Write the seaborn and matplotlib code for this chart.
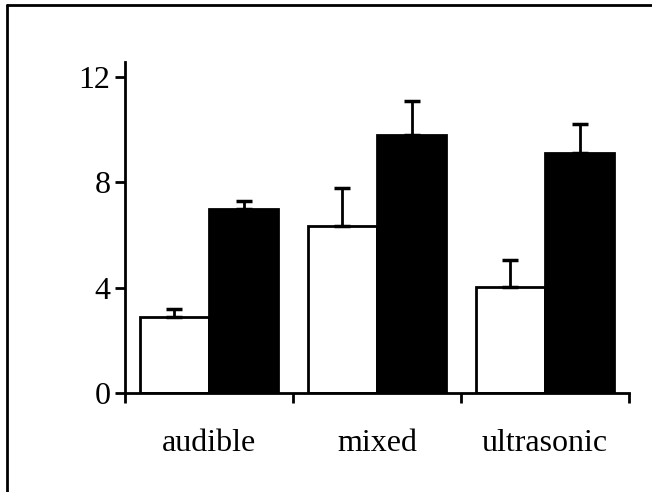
import matplotlib
matplotlib.use("Agg")
import matplotlib.pyplot as plt
from matplotlib.lines import Line2D
import seaborn as sns
import pandas as pd
import numpy as np

# data
categories = ["audible", "mixed", "ultrasonic"]
groups = ["open", "filled"]
open_means = [2.9, 6.35, 4.03]
open_errs = [0.3, 1.42, 1.02]
filled_means = [6.97, 9.79, 9.09]
filled_errs = [0.3, 1.29, 1.11]
yticks = [0, 4, 8, 12]

df = pd.DataFrame({
    "category": categories * 2,
    "group": [groups[0]] * 3 + [groups[1]] * 3,
    "value": open_means + filled_means,
})

sns.set_style("white")
plt.rcParams["font.family"] = ["Liberation Serif", "DejaVu Serif"]

fig = plt.figure(figsize=(6.52, 4.92), dpi=100)
ax = fig.add_axes([125 / 652, 1 - 393 / 492, 504 / 652, 331 / 492])

sns.barplot(data=df, x="category", y="value", hue="group", order=categories,
            hue_order=groups, palette=["white", "black"], edgecolor="black",
            linewidth=2, width=0.825, gap=0, legend=False, errorbar=None, ax=ax)

# upward-only error bars
for cont, errs in zip(ax.containers, [open_errs, filled_errs]):
    xs = [b.get_x() + b.get_width() / 2 for b in cont]
    hs = [b.get_height() for b in cont]
    ax.errorbar(xs, hs, yerr=[np.zeros(len(errs)), errs], fmt="none",
                ecolor="black", elinewidth=2, capsize=5.8, capthick=2.5, zorder=1)

ax.set_xlim(-0.5, 2.5)
ax.set_ylim(0, 12.55)
ax.set_yticks(yticks)
ax.set_yticklabels([str(t) for t in yticks])
ax.set_xticks([-0.5, 0.5, 1.5, 2.5], minor=False)
ax.set_xticklabels([])
ax.set_xticks([0, 1, 2], minor=True)
ax.set_xticklabels(categories, minor=True)
ax.set_xlabel("")
ax.set_ylabel("")

for s in ["top", "right"]:
    ax.spines[s].set_visible(False)
for s in ["left", "bottom"]:
    ax.spines[s].set_linewidth(2)
    ax.spines[s].set_color("black")

ax.tick_params(axis="y", which="major", direction="out", length=7.5, width=2,
               labelsize=23, pad=3, left=True, colors="black")
ax.tick_params(axis="x", which="major", direction="out", length=7.5, width=2,
               bottom=True, colors="black")
ax.tick_params(axis="x", which="minor", length=0, labelsize=23, pad=26,
               colors="black")

# frame around the picture (only top and left edges visible)
fig.add_artist(Line2D([7 / 652, 1], [1 - 5 / 492, 1 - 5 / 492],
                      transform=fig.transFigure, color="black", lw=2))
fig.add_artist(Line2D([7 / 652, 7 / 652], [0, 1 - 5 / 492],
                      transform=fig.transFigure, color="black", lw=2))

fig.savefig("out.png", dpi=100)
